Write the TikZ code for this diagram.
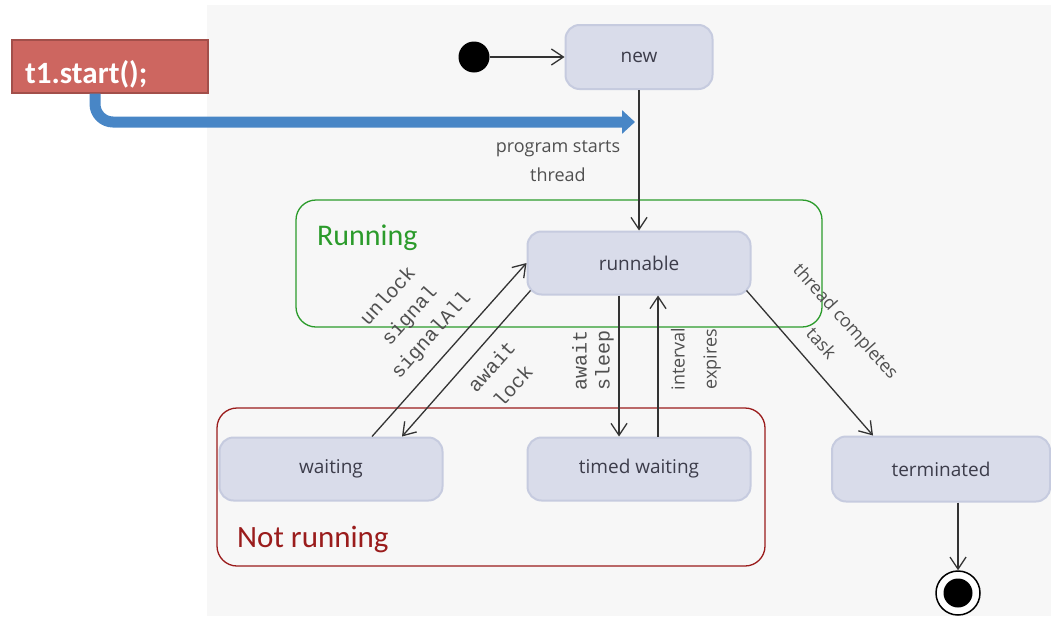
\documentclass[tikz,border=0pt]{standalone}
\usepackage{fontspec}
\setmainfont{Open Sans}
\setmonofont{Liberation Mono}
\newfontfamily\calfont{Carlito}
\usepackage{xcolor}
\usepackage{tikz}
\usetikzlibrary{arrows.meta, positioning, calc}

\definecolor{panelgray}{HTML}{F7F7F7}
\definecolor{statefill}{HTML}{D9DCEA}
\definecolor{stateline}{HTML}{C6CBDF}
\definecolor{statetext}{HTML}{3C3C4A}
\definecolor{lbltext}{HTML}{505050}
\definecolor{callred}{HTML}{CD6660}
\definecolor{callborder}{HTML}{A24F4A}
\definecolor{callblue}{HTML}{4886C6}
\definecolor{rungreen}{HTML}{2B9B2B}
\definecolor{notred}{HTML}{9A1C1C}

\begin{document}
\begin{tikzpicture}[
        x=1pt, y=-1pt,
        state/.style={rectangle, rounded corners=14pt, draw=stateline, line width=2pt, fill=statefill, text=statetext, minimum width=223pt, minimum height=63pt, inner sep=0pt, font=\fontsize{19}{22}\selectfont},
        lbl/.style={text=lbltext, align=center, inner sep=0pt, font=\fontsize{18}{29}\selectfont},
        codelbl/.style={text=lbltext, align=center, inner sep=0pt, font=\ttfamily\fontsize{20}{29}\selectfont},
        flow/.style={-{Straight Barb[length=12pt, width=16pt, line width=1.3pt]}, line width=1.3pt, draw=black!80},
        group/.style={rounded corners=20pt, line width=1.3pt},
        grouptitle/.style={inner sep=0pt, anchor=base west, font=\calfont\fontsize{30}{32}\selectfont}
    ]
    \useasboundingbox (0,0) rectangle (1051,616);
    \fill[panelgray] (207,5) rectangle (1051,616);

    \node (newst) [state, minimum width=147pt, minimum height=64pt] at (639,57) {new};
    \node (runnable) [state] at (639,263) {runnable};
    \node (waiting) [state] at (331,469) {waiting};
    \node (timed) [state] at (639,469) {timed waiting};
    \node (terminated) [state, minimum width=218pt, minimum height=65pt] at (941,469) {terminated};

    \node (initst) [circle, fill=black, minimum size=31pt, inner sep=0pt] at (474,57) {};
    \node (finalst) [circle, draw=black, line width=1.5pt, fill=white, minimum size=44pt, inner sep=0pt] at (958,593) {};
    \node (finaldot) [circle, fill=black, minimum size=29pt, inner sep=0pt] at (finalst) {};

    \draw[group, draw=rungreen] (296,200) rectangle (822,327);
    \node (runtitle) [grouptitle, text=rungreen] at (317,245) {Running};
    \draw[group, draw=notred] (217,408) rectangle (765,566);
    \node (nottitle) [grouptitle, text=notred, font=\calfont\fontsize{31}{33}\selectfont] at (237,547) {Not running};

    \draw[flow] (initst) -- (newst.west);
    \draw[flow] (newst.south) -- (runnable.north);
    \draw[flow] ([xshift=41pt]waiting.north) -- (runnable.west);
    \draw[flow] ([shift={(4pt,5pt)}]runnable.south west) -- ([xshift=71pt]waiting.north);
    \draw[flow] ([xshift=-20pt]runnable.south) -- ([xshift=-20pt]timed.north);
    \draw[flow] ([xshift=19pt]timed.north) -- ([xshift=19pt]runnable.south);
    \draw[flow] ([shift={(-5pt,5pt)}]runnable.south east) -- ([xshift=-68pt]terminated.north);
    \draw[flow] ([xshift=17pt]terminated.south) -- (finalst.north);

    \node (lblstart) [lbl] at (558,161) {program starts\\thread};
    \node (lblunlock) [codelbl, rotate=48] at (410,316) {unlock\\signal\\signalAll};
    \node (lblawait) [codelbl, rotate=48] at (502,376) {await\\lock};
    \node (lblsleep) [codelbl, rotate=90, font=\ttfamily\fontsize{20}{23}\selectfont] at (593,360) {await\\sleep};
    \node (lblexpires) [lbl, rotate=90, font=\fontsize{18}{32}\selectfont] at (696,359) {interval\\expires};
    \node (lbldone) [lbl, rotate=-48, font=\fontsize{18}{33}\selectfont] at (834,332) {thread completes\\task};

    \node (callbox) [rectangle, draw=callborder, line width=1.5pt, fill=callred, minimum width=196pt, minimum height=53pt, inner sep=0pt, anchor=north west] at (11,39) {};
    \node (calltext) [text=white, inner sep=0pt, anchor=base west, font=\calfont\bfseries\fontsize{31}{33}\selectfont] at (25,83) {t1.start();};
    \coordinate (starthit) at (635,122);
    \draw[callblue, line width=11pt, rounded corners=18pt, -{Triangle[length=13pt, width=23pt]}] ([xshift=84pt]callbox.south west) |- (starthit);
\end{tikzpicture}
\end{document}
